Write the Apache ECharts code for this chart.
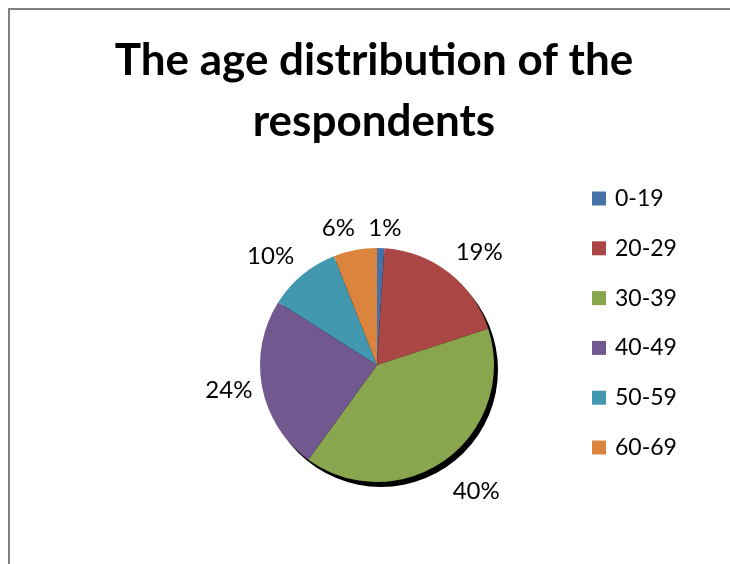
<!DOCTYPE html>
<html>
<head>
<meta charset="utf-8">
<script src="https://cdn.jsdelivr.net/npm/echarts@6/dist/echarts.min.js"></script>
<style>
html,body{margin:0;padding:0;background:#fff;}
#chart{width:730px;height:564px;}
</style>
</head>
<body>
<div id="chart"></div>
<script>
var titleText = 'The age distribution of the\nrespondents';
var categories = ['0-19', '20-29', '30-39', '40-49', '50-59', '60-69'];
var values = [1, 19, 40, 24, 10, 6];
var colors = ['#4572A7', '#AA4643', '#89A54E', '#71588F', '#4198AF', '#DB843D'];
// label placement tweaks (style only): distance of label from pie edge, and text nudge
var labelLineLengths = [20, 26, 39, 20, 24, 22];
var labelDistances = [-13, -9, -16, -10, -7, -4];

var chart = echarts.init(document.getElementById('chart'));
var total = values.reduce(function(a, b){ return a + b; }, 0);
var pieData = categories.map(function(c, i){
  return {
    name: c,
    value: values[i],
    itemStyle: { color: colors[i] },
    label: { distanceToLabelLine: labelDistances[i] },
    labelLine: { show: false, length: labelLineLengths[i], length2: 0 }
  };
});

chart.setOption({
  animation: false,
  backgroundColor: '#ffffff',
  graphic: [
    { type: 'line', shape: { x1: 8, y1: 9, x2: 730, y2: 9 }, style: { stroke: '#808080', lineWidth: 2 }, silent: true },
    { type: 'line', shape: { x1: 9, y1: 8, x2: 9, y2: 564 }, style: { stroke: '#808080', lineWidth: 2 }, silent: true }
  ],
  title: {
    text: titleText,
    left: 369,
    top: 25,
    textAlign: 'center',
    textStyle: {
      fontFamily: 'Lato',
      fontWeight: 'bold',
      fontSize: 44,
      lineHeight: 61,
      color: '#000'
    }
  },
  legend: {
    orient: 'vertical',
    left: 592,
    top: 187,
    padding: 0,
    itemWidth: 14,
    itemHeight: 14,
    itemGap: 26.8,
    icon: 'rect',
    data: categories,
    textStyle: {
      fontFamily: 'Lato',
      fontSize: 23,
      lineHeight: 23,
      color: '#000',
      padding: [0, 0, 0, 4]
    }
  },
  series: [
    {
      type: 'pie',
      silent: true,
      center: [381, 370],
      radius: 117,
      label: { show: false },
      labelLine: { show: false },
      data: [{ name: 'shadow', value: total, itemStyle: { color: '#000' } }],
      legendHoverLink: false,
      z: 1
    },
    {
      type: 'pie',
      center: [377, 365],
      radius: 117,
      startAngle: 90,
      clockwise: true,
      avoidLabelOverlap: false,
      data: pieData,
      itemStyle: { borderWidth: 0 },
      label: {
        show: true,
        position: 'outside',
        formatter: function(p){ return Math.round(p.value / total * 100) + '%'; },
        fontFamily: 'Lato',
        fontSize: 24,
        color: '#000'
      },
      labelLine: { show: false, length2: 0 },
      z: 2
    }
  ]
});
</script>
</body>
</html>
